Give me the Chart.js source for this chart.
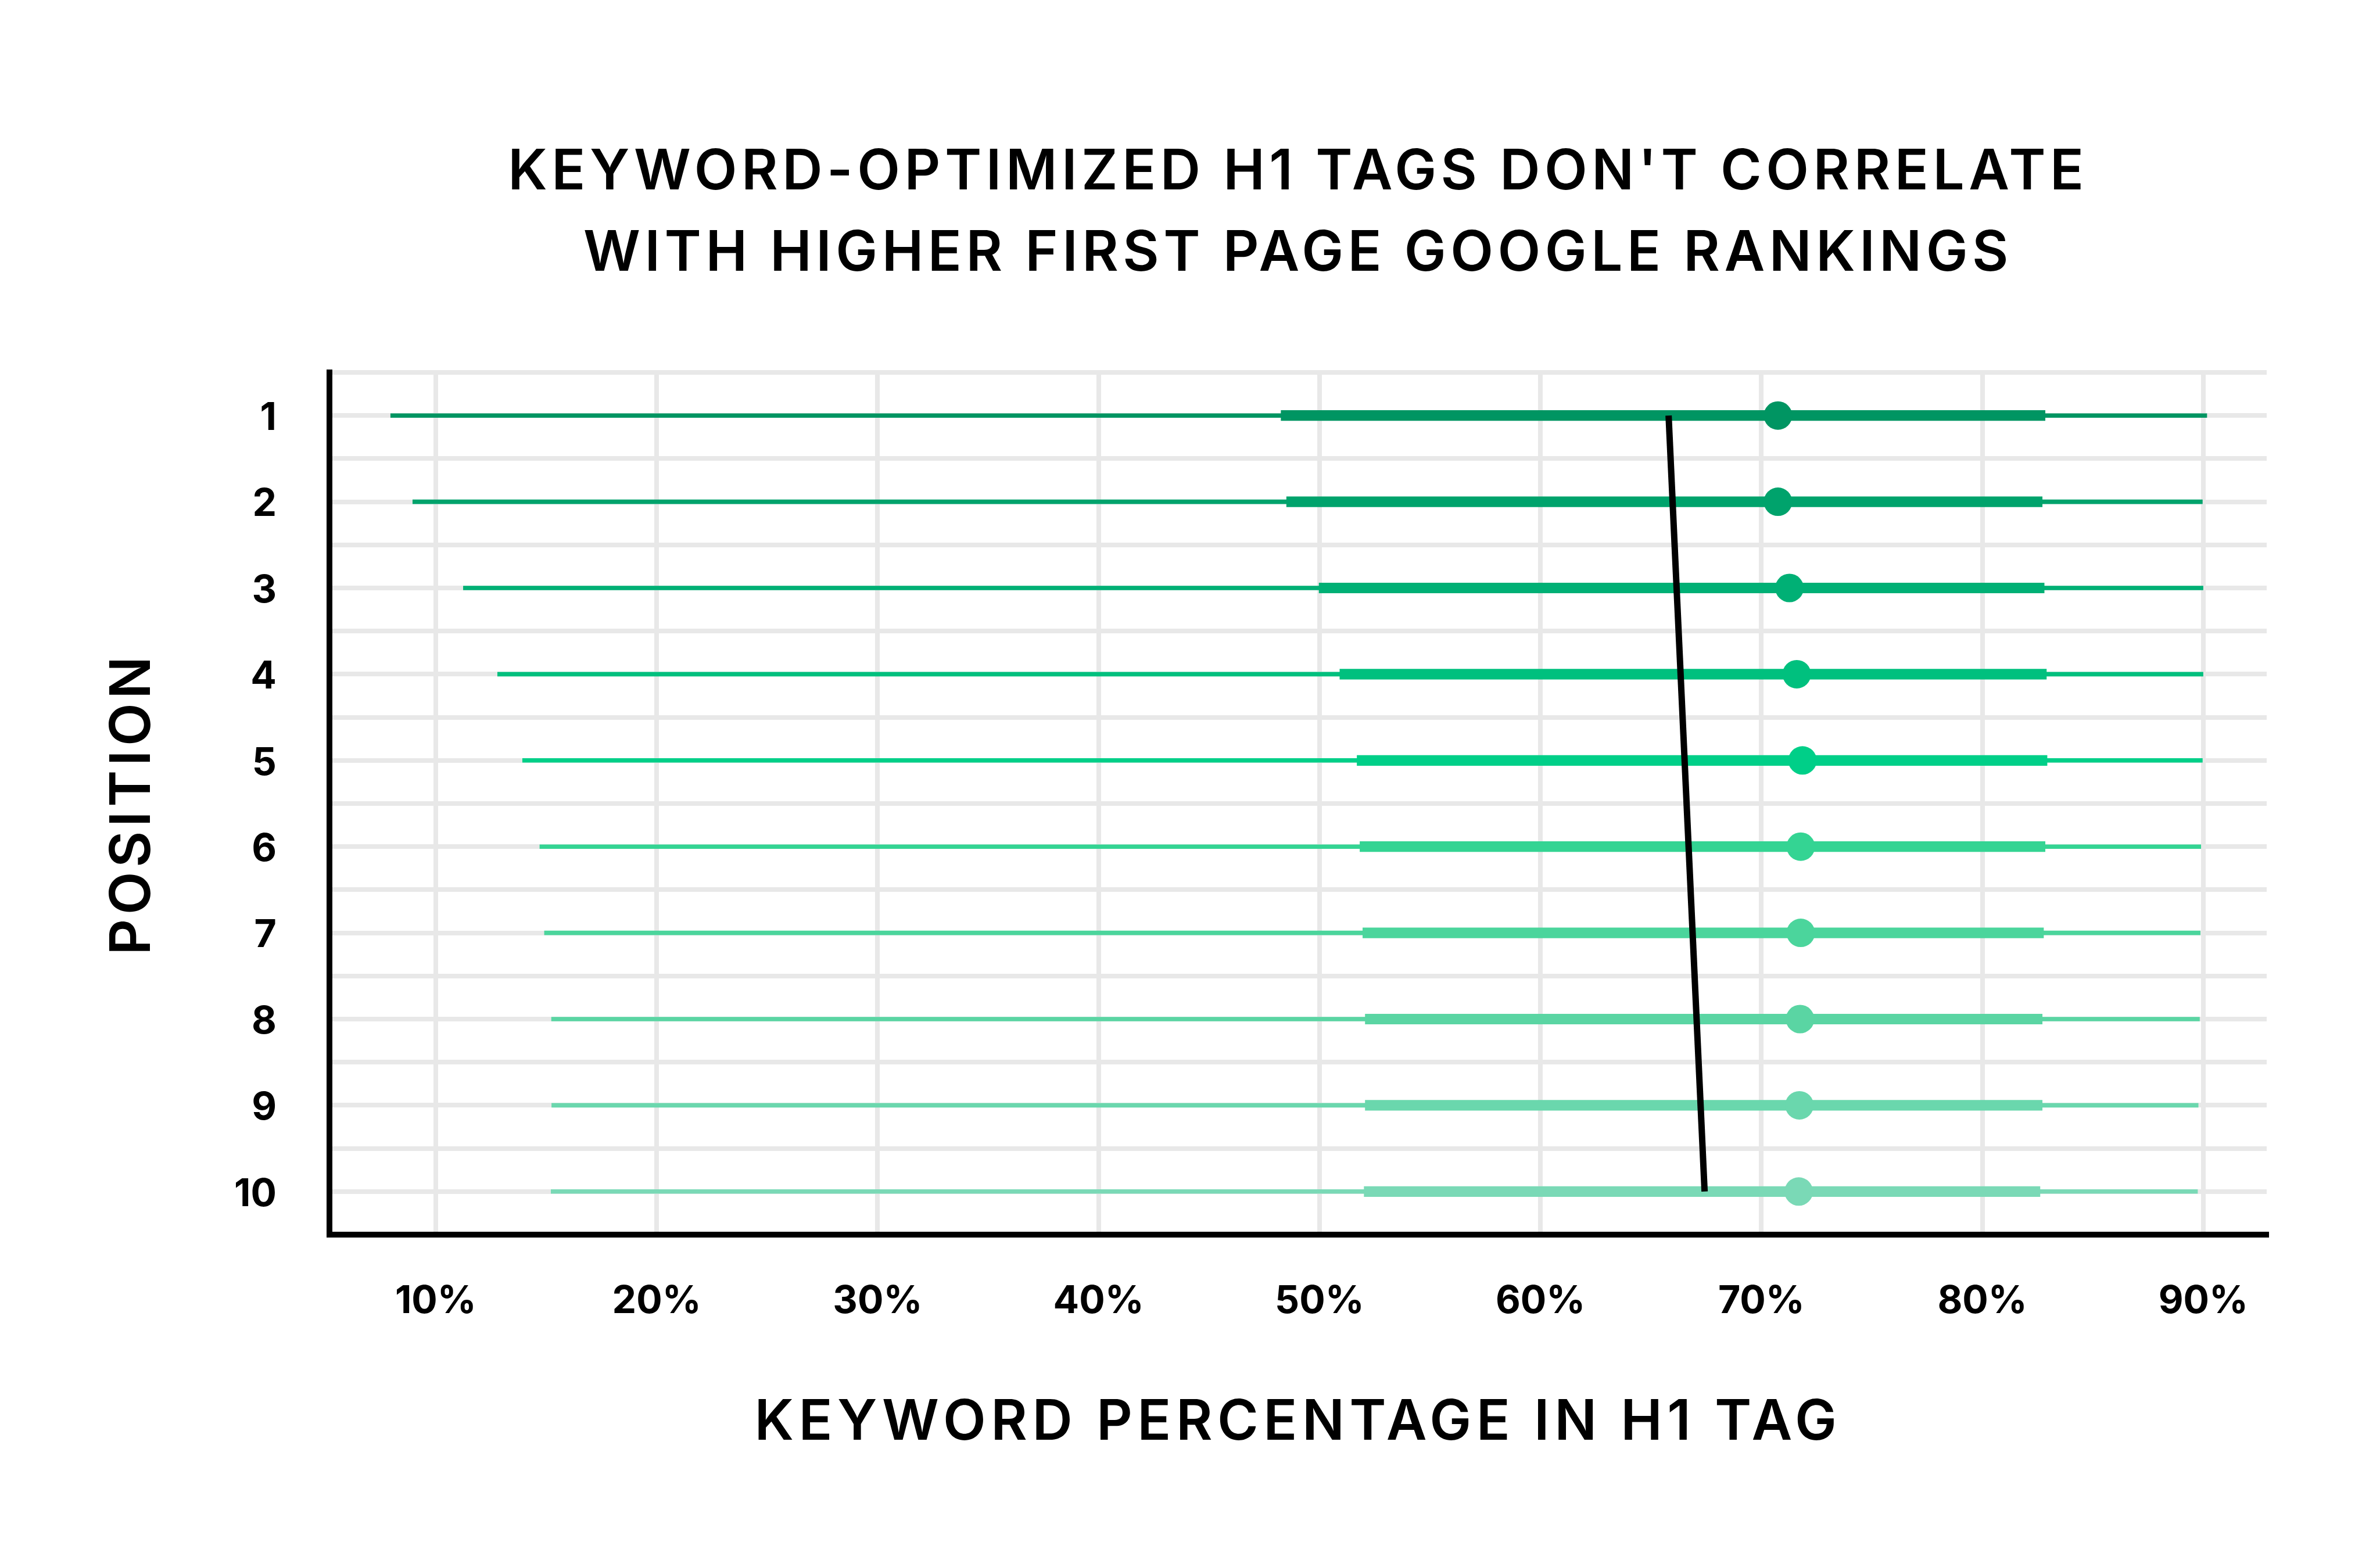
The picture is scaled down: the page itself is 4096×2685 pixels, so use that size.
<!DOCTYPE html>
<html>
<head>
<meta charset="utf-8">
<script src="https://cdn.jsdelivr.net/npm/chart.js@4.4.1/dist/chart.umd.min.js"></script>
<style>
  html, body { margin: 0; padding: 0; background: #ffffff; }
  canvas { display: block; }
</style>
</head>
<body>
<canvas id="chart" width="4096" height="2685"></canvas>
<script>
// ---- data (values in percent) ----
const positions   = [1, 2, 3, 4, 5, 6, 7, 8, 9, 10];
const whiskerLow  = [7.95, 8.95, 11.24, 12.79, 13.92, 14.70, 14.91, 15.23, 15.24, 15.21];
const boxLow      = [48.25, 48.5, 49.97, 50.91, 51.69, 51.82, 51.95, 52.06, 52.06, 52.01];
const medians     = [70.75, 70.75, 71.27, 71.6, 71.86, 71.78, 71.78, 71.75, 71.72, 71.69];
const boxHigh     = [82.85, 82.72, 82.81, 82.91, 82.94, 82.85, 82.78, 82.72, 82.72, 82.62];
const whiskerHigh = [90.17, 89.97, 90.0, 90.0, 89.97, 89.9, 89.87, 89.84, 89.78, 89.75];
const trendPositions = [1, 10];
const trendValues    = [65.8, 67.43];
const xTickValues = [10, 20, 30, 40, 50, 60, 70, 80, 90];
const titleLines = ["KEYWORD-OPTIMIZED H1 TAGS DON'T CORRELATE", "WITH HIGHER FIRST PAGE GOOGLE RANKINGS"];
const xAxisTitle = "KEYWORD PERCENTAGE IN H1 TAG";
const yAxisTitle = "POSITION";

// ---- styles ----
const rowColors = ['#009562', '#00a36c', '#00b075', '#00c07e', '#00cf88',
                   '#34d493', '#4bd59c', '#5ad5a3', '#6ad7ad', '#7ad9b6'];
const FONT = 'Inter';
const GRID = '#e8e8e8';

const datasets = [];
positions.forEach((p, i) => {
  datasets.push({
    label: 'range ' + p,
    data: [{x: whiskerLow[i], y: p}, {x: whiskerHigh[i], y: p}],
    showLine: true, borderColor: rowColors[i], borderWidth: 7.6,
    pointRadius: 0, pointHoverRadius: 0, order: 4
  });
  datasets.push({
    label: 'iqr ' + p,
    data: [{x: boxLow[i], y: p}, {x: boxHigh[i], y: p}],
    showLine: true, borderColor: rowColors[i], borderWidth: 18.2,
    pointRadius: 0, pointHoverRadius: 0, order: 3
  });
});
datasets.push({
  label: 'trend',
  data: trendPositions.map((p, i) => ({x: trendValues[i], y: p})),
  showLine: true, borderColor: '#000000', borderWidth: 11,
  pointRadius: 0, pointHoverRadius: 0, order: 2
});
datasets.push({
  label: 'median',
  data: positions.map((p, i) => ({x: medians[i], y: p})),
  showLine: false, pointRadius: 24.5, pointBorderWidth: 0,
  pointBackgroundColor: rowColors, pointBorderColor: rowColors, order: 1
});

const yTicks = [];
positions.forEach(p => { yTicks.push(p - 0.5); yTicks.push(p); });
yTicks.push(positions[positions.length - 1] + 0.5);

// widen title lettering (reference uses a wide geometric face)
function withSpacing(obj, method, spacing) {
  if (!obj || obj['__spaced_' + method]) return;
  const orig = obj[method];
  obj[method] = function (...args) {
    const ctx = this.ctx || (this.chart && this.chart.ctx);
    const prev = ctx.letterSpacing;
    ctx.letterSpacing = spacing;
    const r = orig.apply(this, args);
    ctx.letterSpacing = prev;
    return r;
  };
  obj['__spaced_' + method] = true;
}
const letterSpacingPlugin = {
  id: 'letterSpacing',
  beforeDraw(chart) {
    withSpacing(chart.titleBlock, 'draw', '7.5px');
    withSpacing(chart.scales.x, 'drawTitle', '8.5px');
    withSpacing(chart.scales.y, 'drawTitle', '7.5px');
  }
};

new Chart(document.getElementById('chart'), {
  type: 'scatter',
  data: { datasets },
  plugins: [letterSpacingPlugin],
  options: {
    responsive: false,
    devicePixelRatio: 1,
    animation: false,
    layout: { padding: { left: 0, right: 195, top: 0, bottom: 0 } },
    plugins: {
      legend: { display: false },
      tooltip: { enabled: false },
      title: {
        display: true,
        text: titleLines,
        fullSize: false,
        color: '#000000',
        font: { family: FONT, size: 96, weight: '600', lineHeight: 140 / 96 },
        padding: { top: 227, bottom: 134 }
      }
    },
    scales: {
      x: {
        type: 'linear',
        min: 5.19, max: 92.87,
        afterBuildTicks: s => { s.ticks = xTickValues.map(v => ({ value: v })); },
        afterFit: s => { s.height = 560; },
        ticks: {
          callback: v => v + '%',
          color: '#000000',
          font: { family: FONT, size: 66, weight: '700', lineHeight: 1.2 },
          padding: 76,
          autoSkip: false, maxRotation: 0
        },
        grid: { color: GRID, lineWidth: 8, drawTicks: false },
        border: { display: true, color: '#000000', width: 10 },
        title: {
          display: true, text: xAxisTitle, color: '#000000',
          font: { family: FONT, size: 96, weight: '600', lineHeight: 1.2 },
          padding: { top: 0, bottom: 178 }
        }
      },
      y: {
        type: 'linear',
        reverse: true,
        min: 0.5, max: 10.5,
        afterBuildTicks: s => { s.ticks = yTicks.map(v => ({ value: v })); },
        afterFit: s => { s.width = 567; },
        ticks: {
          callback: v => Number.isInteger(v) ? String(v) : '',
          color: '#000000',
          font: { family: FONT, size: 66, weight: '700', lineHeight: 1.2 },
          padding: 91,
          labelOffset: 5,
          autoSkip: false
        },
        grid: { color: GRID, lineWidth: 8, drawTicks: false },
        border: { display: true, color: '#000000', width: 10 },
        title: {
          display: true, text: yAxisTitle, color: '#000000',
          font: { family: FONT, size: 96, weight: '600', lineHeight: 1.2 },
          padding: { top: 172, bottom: 0 }
        }
      }
    }
  }
});
</script>
</body>
</html>
